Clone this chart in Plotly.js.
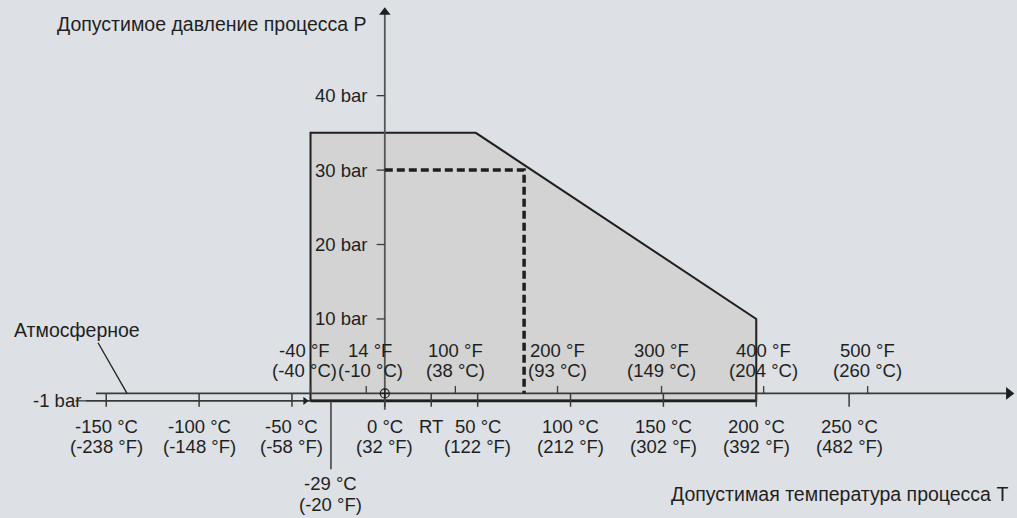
<!DOCTYPE html>
<html>
<head>
<meta charset="utf-8">
<script src="https://cdn.plot.ly/plotly-3.0.1.min.js"></script>
<style>
  html, body { margin: 0; padding: 0; background: #dde1e5; }
  #chart { width: 1017px; height: 518px; }
</style>
</head>
<body>
<div id="chart"></div>
<script>
// ---- data (°C / bar) ----
const regionT = [-40, -40, 49, 200, 200, -40];
const regionP = [-1, 35, 35, 10, -1, -1];

const ratedT = [0, 75, 75];
const ratedP = [30, 30, 0];

const celsiusTicks = [-150, -100, -50, 0, 25, 50, 100, 150, 200, 250];
const celsiusLabels = ['-150 °C<br>(-238 °F)', '-100 °C<br>(-148 °F)', '-50 °C<br>(-58 °F)',
  '0 °C<br>(32 °F)', 'RT', '50 °C<br>(122 °F)', '100 °C<br>(212 °F)', '150 °C<br>(302 °F)',
  '200 °C<br>(392 °F)', '250 °C<br>(482 °F)'];

const fahrenheitTicksC = [-40, -10, 38, 93, 149, 204, 260];
const fahrenheitLabels = ['-40 °F<br>(-40 °C)', '14 °F<br>(-10 °C)', '100 °F<br>(38 °C)',
  '200 °F<br>(93 °C)', '300 °F<br>(149 °C)', '400 °F<br>(204 °C)', '500 °F<br>(260 °C)'];

const pressureTicks = [10, 20, 30, 40];
const pressureLabels = ['10 bar', '20 bar', '30 bar', '40 bar'];

const vacuumP = -1;
const vacuumLabel = '-1 bar';
const atmosLabel = 'Атмосферное';
const minTemp = -29;
const minTempLabel = '-29 °C<br>(-20 °F)';

const yTitle = 'Допустимое давление процесса P';
const xTitle = 'Допустимая температура процесса T';

// ---- styling ----
const ink = '#1f1f1f';
const axisInk = '#3a3a3a';
const numFont = {family: 'Liberation Sans, Arial, sans-serif', size: 18.5, color: ink};
const txtFont = {family: 'Liberation Sans, Arial, sans-serif', size: 19.5, color: ink};
// pixel nudges for the two crowded upper labels (by index in fahrenheitTicksC)
const fLabelShift = [-6, 4, 0, 0, 0, 0, 0];

// axis extents (°C, bar)
const xAxisStart = -155.5, xAxisEnd = 334.5;
const vacStart = -161, vacEnd = -40;
const yAxisBottom = -2.2, yAxisTop = 51.2;

function segs(vals, a, b, horizontal) {
  const xs = [], ys = [];
  vals.forEach(v => {
    if (horizontal) { xs.push(a, b, null); ys.push(v, v, null); }
    else { xs.push(v, v, null); ys.push(a, b, null); }
  });
  return {xs, ys};
}

const cT = segs(celsiusTicks, 0, -1.8, false);
const fT = segs(fahrenheitTicksC, 0, 1.0, false);
const pT = segs(pressureTicks, -4.4, 0, true);

const traces = [
  {x: regionT, y: regionP, mode: 'lines', fill: 'toself', fillcolor: '#d3d3d3',
   line: {color: ink, width: 2}, hoverinfo: 'skip'},
  {x: [vacStart, vacEnd], y: [vacuumP, vacuumP], mode: 'lines', line: {color: axisInk, width: 1.6}, hoverinfo: 'skip'},
  {x: [regionT[0], regionT[4]], y: [vacuumP, vacuumP], mode: 'lines', line: {color: ink, width: 2.6}, hoverinfo: 'skip'},
  {x: [xAxisStart, xAxisEnd], y: [0, 0], mode: 'lines', line: {color: axisInk, width: 1.6}, hoverinfo: 'skip'},
  {x: [0, 0], y: [yAxisBottom, yAxisTop], mode: 'lines', line: {color: '#555', width: 1.8}, hoverinfo: 'skip'},
  {x: cT.xs, y: cT.ys, mode: 'lines', line: {color: axisInk, width: 1.5}, hoverinfo: 'skip'},
  {x: fT.xs, y: fT.ys, mode: 'lines', line: {color: axisInk, width: 1.3}, hoverinfo: 'skip'},
  {x: pT.xs, y: pT.ys, mode: 'lines', line: {color: axisInk, width: 1.3}, hoverinfo: 'skip'},
  {x: [vacStart - 5.5, vacStart], y: [vacuumP, vacuumP], mode: 'lines', line: {color: axisInk, width: 1.3}, hoverinfo: 'skip'},
  {x: [minTemp, minTemp], y: [-1, -10.2], mode: 'lines', line: {color: axisInk, width: 1.5}, hoverinfo: 'skip'},
  {x: [-154.4, -138.8], y: [6.8, 0], mode: 'lines', line: {color: ink, width: 1.3}, hoverinfo: 'skip'},
  {x: ratedT, y: ratedP, mode: 'lines', line: {color: ink, width: 3.5, dash: '8px,4px'}, hoverinfo: 'skip'},
  {x: [xAxisEnd + 1.5], y: [0], mode: 'markers', marker: {symbol: 'triangle-right', size: 11, color: ink}, hoverinfo: 'skip'},
  {x: [0], y: [yAxisTop], mode: 'markers', marker: {symbol: 'triangle-up', size: 10, color: ink}, hoverinfo: 'skip'},
  {x: [vacEnd - 2.9], y: [vacuumP], mode: 'markers', marker: {symbol: 'triangle-right', size: 7, color: ink}, hoverinfo: 'skip'},
  {x: [0], y: [0], mode: 'markers', marker: {symbol: 'circle-cross-open', size: 9, color: ink, line: {width: 1.2, color: ink}}, hoverinfo: 'skip'}
];

const ann = [];
function addLines(x, yFirst, text, step, xanchor, f, xshift) {
  text.split('<br>').forEach((line, k) => {
    ann.push({x: x, y: yFirst - k * step, text: line, xanchor: xanchor, yanchor: 'middle', font: f, xshift: xshift || 0});
  });
}
const lineStep = 2.82; // bar per text line (21 px)
celsiusTicks.forEach((t, i) => addLines(t, -4.38, celsiusLabels[i], lineStep, 'center', numFont));
fahrenheitTicksC.forEach((t, i) => addLines(t, 5.83, fahrenheitLabels[i], lineStep, 'center', numFont, fLabelShift[i]));
pressureTicks.forEach((p, i) => addLines(-8.6, p, pressureLabels[i], lineStep, 'right', numFont));
addLines(-162.5, vacuumP, vacuumLabel, lineStep, 'right', numFont);
addLines(minTemp, -12.04, minTempLabel, lineStep, 'center', numFont);
addLines(-200.5, 8.5, atmosLabel, lineStep, 'left', txtFont);
addLines(-8.6, 49.6, yTitle, lineStep, 'right', txtFont);
addLines(336.5, -13.5, xTitle, lineStep, 'right', txtFont);
ann.forEach(a => { a.xref = 'x'; a.yref = 'y'; a.showarrow = false; });

const layout = {
  width: 1017, height: 518,
  margin: {l: 0, r: 0, t: 0, b: 0},
  paper_bgcolor: '#dde1e5', plot_bgcolor: '#dde1e5',
  showlegend: false,
  xaxis: {range: [-207.2, 340.4], showgrid: false, zeroline: false, showticklabels: false, ticks: '', showline: false, fixedrange: true},
  yaxis: {range: [-16.74, 52.85], showgrid: false, zeroline: false, showticklabels: false, ticks: '', showline: false, fixedrange: true},
  annotations: ann
};

Plotly.newPlot('chart', traces, layout, {displayModeBar: false, staticPlot: true});
</script>
</body>
</html>
